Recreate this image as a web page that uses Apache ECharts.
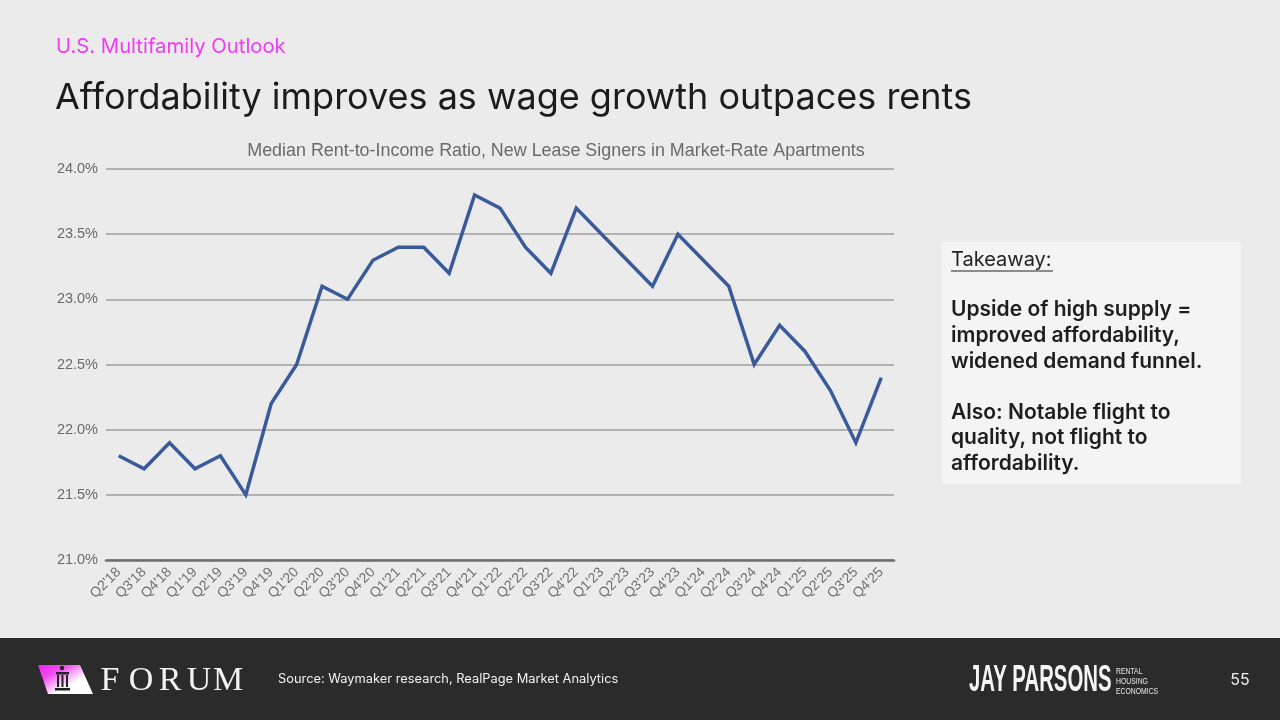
<!DOCTYPE html>
<head>
    <meta charset="utf-8">
    <title>Affordability improves as wage growth outpaces rents</title>
    <script src="https://cdn.jsdelivr.net/npm/echarts@6/dist/echarts.min.js"></script>
    <style>
        html, body { margin: 0; padding: 0; background: #ebebeb; }
        #main { width: 1280px; height: 720px; }
    </style>
</head>
<body>
<div id="main"></div>
<script type="text/javascript">
    // quarters on the x axis
    var quarters = ["Q2'18", "Q3'18", "Q4'18",
        "Q1'19", "Q2'19", "Q3'19", "Q4'19",
        "Q1'20", "Q2'20", "Q3'20", "Q4'20",
        "Q1'21", "Q2'21", "Q3'21", "Q4'21",
        "Q1'22", "Q2'22", "Q3'22", "Q4'22",
        "Q1'23", "Q2'23", "Q3'23", "Q4'23",
        "Q1'24", "Q2'24", "Q3'24", "Q4'24",
        "Q1'25", "Q2'25", "Q3'25", "Q4'25"];
    // median rent-to-income ratio, %
    var rentToIncome = [21.8, 21.7, 21.9,
        21.7, 21.8, 21.5, 22.2,
        22.5, 23.1, 23.0, 23.3,
        23.4, 23.4, 23.2, 23.8,
        23.7, 23.4, 23.2, 23.7,
        23.5, 23.3, 23.1, 23.5,
        23.3, 23.1, 22.5, 22.8,
        22.6, 22.3, 21.9, 22.4];
    // y axis range
    var yMin = 21.0, yMax = 24.0, yStep = 0.5;
    // side box text
    var takeawayLines = ['Upside of high supply =', 'improved affordability,', 'widened demand funnel.',
        '', 'Also: Notable flight to', 'quality, not flight to', 'affordability.'];
    var sourceText = 'Source: Waymaker research, RealPage Market Analytics';

    var myChart = echarts.init(document.getElementById('main'));

    // footer + headings + takeaway box
    var graphics = [
        {type: 'rect', z: -10, shape: {x: 0, y: 0, width: 1280, height: 720}, style: {fill: '#ebebeb'}},
        {type: 'text', x: 56, y: 47, style: {text: 'U.S. Multifamily Outlook', fill: '#f03cf0',
            font: '400 20.3px Inter, "Noto Sans", sans-serif', verticalAlign: 'middle'}},
        {type: 'text', x: 55, y: 98, style: {text: 'Affordability improves as wage growth outpaces rents', fill: '#1c1c1c',
            font: '400 36px Inter, "Noto Sans", sans-serif', verticalAlign: 'middle'}},
        // takeaway box
        {type: 'rect', shape: {x: 942, y: 242, width: 299, height: 242}, style: {fill: '#f4f4f4'}},
        {type: 'text', x: 951, y: 260, style: {text: 'Takeaway:', fill: '#222',
            font: '400 20px Inter, "Noto Sans", sans-serif', verticalAlign: 'middle'}},
        {type: 'line', shape: {x1: 951, y1: 271, x2: 1053, y2: 271}, style: {stroke: '#222', lineWidth: 1.2}},
        // footer band
        {type: 'rect', shape: {x: 0, y: 638, width: 1280, height: 82}, style: {fill: '#2b2b2b'}},
        {type: 'polygon', shape: {points: [[38, 665], [80, 665], [93, 694], [48, 694]]},
            style: {fill: {type: 'linear', x: 0, y: 0, x2: 0.3, y2: 1, colorStops: [
                {offset: 0, color: '#f01ef0'}, {offset: 0.45, color: '#f050f0'}, {offset: 1, color: '#ffffff'}]}}},
        {type: 'circle', shape: {cx: 62, cy: 668, r: 2.2}, style: {fill: '#222'}},
        {type: 'rect', shape: {x: 56, y: 672, width: 13, height: 2.5}, style: {fill: '#222'}},
        {type: 'rect', shape: {x: 57, y: 675, width: 2, height: 12}, style: {fill: '#222'}},
        {type: 'rect', shape: {x: 61.5, y: 675, width: 2, height: 12}, style: {fill: '#222'}},
        {type: 'rect', shape: {x: 66, y: 675, width: 2, height: 12}, style: {fill: '#222'}},
        {type: 'rect', shape: {x: 55, y: 688, width: 15, height: 2.5}, style: {fill: '#222'}},
        {type: 'text', x: 278, y: 679, style: {text: sourceText, fill: '#f0f0f0',
            font: '400 12.85px Inter, "Noto Sans", sans-serif', verticalAlign: 'middle'}},
        // condensed wordmark: squeeze normal glyphs horizontally
        {type: 'text', x: 969, y: 681, scaleX: 0.55, style: {text: 'JAY PARSONS', fill: '#f5f5f5',
            font: '700 37px "Liberation Sans", "DejaVu Sans", sans-serif', verticalAlign: 'middle'}},
        {type: 'text', x: 1116, y: 681, scaleX: 0.72, style: {text: 'RENTAL\nHOUSING\nECONOMICS', fill: '#e8e8e8', lineHeight: 10,
            font: '400 9.5px "Liberation Sans", "DejaVu Sans", sans-serif', verticalAlign: 'middle'}},
        {type: 'text', x: 1240, y: 680, style: {text: '55', fill: '#f0f0f0', align: 'center',
            font: '400 16px Inter, "Noto Sans", sans-serif', verticalAlign: 'middle'}}
    ];
    for (var i = 0; i < takeawayLines.length; i++) {
        if (!takeawayLines[i]) continue;
        graphics.push({type: 'text', x: 951, y: 310 + i * 25.6, style: {text: takeawayLines[i], fill: '#1e1e1e',
            font: '600 21px Inter, "Noto Sans", sans-serif', verticalAlign: 'middle'}});
    }
    // FORUM wordmark, letters placed one by one for the wide spacing
    var forum = ['F', 'O', 'R', 'U', 'M'];
    var forumX = [110, 141, 170, 199, 228];
    for (var j = 0; j < forum.length; j++) {
        graphics.push({type: 'text', x: forumX[j], y: 681, style: {text: forum[j], fill: '#f2f2f2', align: 'center',
            font: '400 34px "Liberation Serif", "DejaVu Serif", serif', verticalAlign: 'middle'}});
    }

    var option = {
        backgroundColor: '#ebebeb',
        animation: false,
        title: {
            text: 'Median Rent-to-Income Ratio, New Lease Signers in Market-Rate Apartments',
            left: 551, top: 137, textAlign: 'center',
            textStyle: {color: '#6a6a6a', fontSize: 17.9, fontWeight: 'normal', fontFamily: '"Liberation Sans", Arial, sans-serif'}
        },
        grid: {left: 106, right: 386, top: 169, bottom: 160, containLabel: false},
        xAxis: {
            type: 'category',
            data: quarters,
            boundaryGap: true,
            axisLine: {show: true, lineStyle: {color: '#6e6e6e', width: 2.5}},
            axisTick: {show: false},
            axisLabel: {rotate: 45, interval: 0, margin: 10, color: '#707070', fontSize: 14,
                fontFamily: '"Liberation Sans", Arial, sans-serif'}
        },
        yAxis: {
            type: 'value',
            min: yMin, max: yMax, interval: yStep,
            axisLine: {show: false},
            axisTick: {show: false},
            splitLine: {lineStyle: {color: '#b2b2b2', width: 2}},
            axisLabel: {margin: 8, color: '#6a6a6a', fontSize: 14.5, fontFamily: '"Liberation Sans", Arial, sans-serif',
                formatter: function (v) { return v.toFixed(1) + '%'; }}
        },
        series: [{
            name: 'Median Rent-to-Income Ratio',
            type: 'line',
            data: rentToIncome,
            symbol: 'none',
            lineStyle: {color: '#3a5a9a', width: 3.5, join: 'miter'}
        }],
        graphic: graphics
    };
    myChart.setOption(option);
</script>
</body>
